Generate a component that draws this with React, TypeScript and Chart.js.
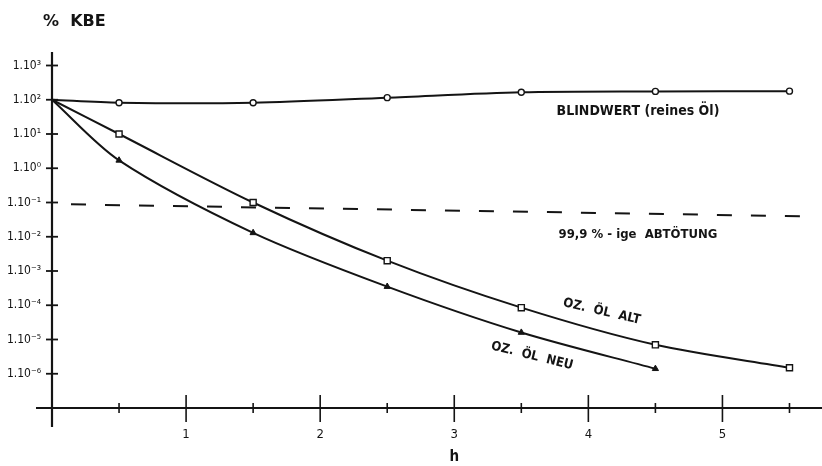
import React, { useEffect, useRef } from "react";
import { Chart, registerables } from "chart.js";

Chart.register(...registerables);

// ---- data ----
const hours = [0, 0.5, 1.5, 2.5, 3.5, 4.5, 5.5];
const blindwert = [100, 82, 82, 115, 165, 175, 178];
const ozOelAlt = [100, 10, 0.1, 0.002, 8.5e-5, 7e-6, 1.5e-6];
const hoursNeu = [0, 0.5, 1.5, 2.5, 3.5, 4.5];
const ozOelNeu = [100, 1.7, 0.013, 3.5e-4, 1.6e-5, 1.4e-6];
const killHours = [0, 5.7];
const killLevel = [0.09, 0.039];
const yTickExponents = [-6, -5, -4, -3, -2, -1, 0, 1, 2, 3];
const xLabelTicks = [1, 2, 3, 4, 5];
const xMinorTicks = [0.5, 1.5, 2.5, 3.5, 4.5, 5.5];

const labelBlind = "BLINDWERT (reines Öl)";
const labelKill = "99,9 % - ige  ABTÖTUNG";
const labelAlt = "OZ.  ÖL  ALT";
const labelNeu = "OZ.  ÖL  NEU";
const yTitle = "%  KBE";
const xTitle = "h";

const INK = "#141414";
const FONT = "'DejaVu Sans Condensed', 'DejaVu Sans', sans-serif";
const FONT_WIDE = "'DejaVu Sans', sans-serif";

const SUP: Record<string, string> = {
  "-": "⁻", "0": "⁰", "1": "¹", "2": "²", "3": "³", "4": "⁴", "5": "⁵", "6": "⁶", "7": "⁷", "8": "⁸", "9": "⁹",
};
const powLabel = (v: number) => {
  const e = Math.round(Math.log10(v));
  return "1.10" + String(e).split("").map((c) => SUP[c] || c).join("");
};

const notes = [
  { text: labelBlind, x: 4.37, y: 45, angle: 0, size: 14, weight: "bold" },
  { text: labelKill, x: 4.37, y: 0.0115, angle: 0, size: 13, weight: "bold" },
  { text: labelAlt, x: 4.1, y: 6.5e-5, angle: 13, size: 13, weight: "bold" },
  { text: labelNeu, x: 3.58, y: 3.3e-6, angle: 14, size: 13, weight: "bold" },
];

const decorPlugin = {
  id: "decor",
  afterDraw(chart: any) {
    const ctx = chart.ctx as CanvasRenderingContext2D;
    const xs = chart.scales.x;
    const ys = chart.scales.y;
    const x0 = xs.getPixelForValue(0);
    const yb = ys.getPixelForValue(1e-7);
    ctx.save();
    ctx.strokeStyle = INK;
    ctx.lineCap = "butt";
    const seg = (a: number, b: number, c: number, d: number, w: number) => {
      ctx.lineWidth = w;
      ctx.beginPath();
      ctx.moveTo(a, b);
      ctx.lineTo(c, d);
      ctx.stroke();
    };
    // axes
    seg(x0, ys.top, x0, yb + 19, 2.2);
    seg(x0 - 16, yb, chart.width, yb, 2.2);
    // y ticks
    yTickExponents.forEach((e) => {
      const y = ys.getPixelForValue(Math.pow(10, e));
      seg(x0 - 6, y, x0 + 6, y, 1.8);
    });
    // x ticks
    xLabelTicks.forEach((v) => {
      const x = xs.getPixelForValue(v);
      seg(x, yb - 13, x, yb + 14, 1.6);
    });
    xMinorTicks.forEach((v) => {
      const x = xs.getPixelForValue(v);
      seg(x, yb - 5, x, yb + 5, 1.6);
    });
    // annotations
    ctx.fillStyle = INK;
    ctx.textAlign = "center";
    ctx.textBaseline = "middle";
    notes.forEach((n) => {
      const px = xs.getPixelForValue(n.x);
      const py = ys.getPixelForValue(n.y);
      ctx.save();
      ctx.translate(px, py);
      ctx.rotate((n.angle * Math.PI) / 180);
      ctx.font = `${n.weight} ${n.size}px ${FONT}`;
      ctx.fillText(n.text, 0, 0);
      ctx.restore();
    });
    // axis titles
    ctx.font = `bold 16px ${FONT_WIDE}`;
    ctx.textAlign = "left";
    ctx.fillText(yTitle, x0 - 9, ys.top - 30);
    ctx.font = `bold 15px ${FONT}`;
    ctx.textAlign = "center";
    ctx.fillText(xTitle, xs.getPixelForValue(3), yb + 49);
    ctx.restore();
  },
};

export default function App() {
  const ref = useRef<HTMLCanvasElement | null>(null);

  useEffect(() => {
    if (!ref.current) return;
    const pts = (xs: number[], ys: number[]) => xs.map((x, i) => ({ x, y: ys[i] }));
    const radii = (arr: number[], r: number) => arr.map((_, i) => (i === 0 ? 0 : r));
    const chart = new Chart(ref.current, {
      type: "line",
      data: {
        datasets: [
          {
            label: labelKill,
            data: pts(killHours, killLevel),
            borderColor: INK,
            borderWidth: 2,
            borderDash: [15, 19],
            borderDashOffset: 15,
            pointRadius: 0,
            tension: 0,
          },
          {
            label: labelBlind,
            data: pts(hours, blindwert),
            borderColor: INK,
            borderWidth: 2,
            tension: 0.3,
            pointStyle: "circle",
            pointRadius: radii(blindwert, 3),
            pointBackgroundColor: "#fff",
            pointBorderColor: INK,
            pointBorderWidth: 1.4,
          },
          {
            label: labelAlt,
            data: pts(hours, ozOelAlt),
            borderColor: INK,
            borderWidth: 2,
            tension: 0.3,
            pointStyle: "rect",
            pointRadius: radii(ozOelAlt, 4.3),
            pointBackgroundColor: "#fff",
            pointBorderColor: INK,
            pointBorderWidth: 1.4,
          },
          {
            label: labelNeu,
            data: pts(hoursNeu, ozOelNeu),
            borderColor: INK,
            borderWidth: 2,
            tension: 0.3,
            pointStyle: "triangle",
            pointRadius: radii(ozOelNeu, 3.6),
            pointBackgroundColor: INK,
            pointBorderColor: INK,
            pointBorderWidth: 1,
          },
        ],
      } as any,
      options: {
        animation: false,
        responsive: false,
        clip: false,
        layout: { padding: { top: 52, left: 0, right: 0, bottom: 0 } },
        plugins: { legend: { display: false }, tooltip: { enabled: false }, title: { display: false } },
        scales: {
          x: {
            type: "linear",
            min: 0,
            max: 5.7,
            grid: { display: false, drawTicks: false },
            border: { display: false },
            afterBuildTicks: (s: any) => {
              s.ticks = xLabelTicks.map((v) => ({ value: v }));
            },
            afterFit: (s: any) => {
              s.height = 58;
            },
            ticks: {
              autoSkip: false,
              maxRotation: 0,
              padding: 19,
              color: INK,
              font: { family: FONT, size: 13 },
              callback: (v: any) => String(v),
            },
          },
          y: {
            type: "logarithmic",
            min: 1e-7,
            max: Math.pow(10, 3.394),
            grid: { display: false, drawTicks: false },
            border: { display: false },
            afterBuildTicks: (s: any) => {
              s.ticks = yTickExponents.map((e) => ({ value: Math.pow(10, e) }));
            },
            afterFit: (s: any) => {
              s.width = 52;
            },
            ticks: {
              autoSkip: false,
              padding: 11,
              color: INK,
              font: { family: FONT, size: 12 },
              callback: (v: any) => powLabel(Number(v)),
            },
          },
        },
      } as any,
      plugins: [decorPlugin],
    });
    return () => chart.destroy();
  }, []);

  return (
    <div style={{ position: "absolute", left: 0, top: 0, width: 822, height: 466, background: "#fff" }}>
      <canvas ref={ref} width={822} height={466} style={{ display: "block" }} />
    </div>
  );
}
